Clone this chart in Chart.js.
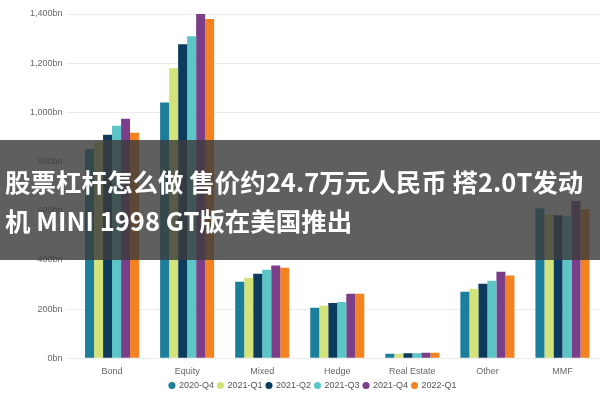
<!DOCTYPE html>
<html><head><meta charset="utf-8">
<script src="https://cdn.jsdelivr.net/npm/chart.js@4"></script>
<style>
body{margin:0;background:#fff;}
#wrap{position:relative;width:600px;height:400px;}
#banner{position:absolute;left:0;top:140px;width:600px;height:120px;background:rgba(60,60,60,0.82);color:#fff;
font:bold 25.5px "Noto Sans CJK SC","Noto Sans",sans-serif;line-height:39px;padding:21px 0 0 5px;box-sizing:border-box;white-space:nowrap;overflow:hidden;}
</style></head>
<body><div id="wrap"><canvas id="c" width="600" height="400"></canvas>
<div id="banner">股票杠杆怎么做 售价约24.7万元人民币 搭2.0T发动<br>机 MINI 1998 GT版在美国推出</div></div>
<script>
const categories = ['Bond','Equity','Mixed','Hedge','Real Estate','Other','MMF'];
const seriesNames = ['2020-Q4','2021-Q1','2021-Q2','2021-Q3','2021-Q4','2022-Q1'];
const q4_2020 = [851,1040,311,205,18,270,610];
const q1_2021 = [880,1179,327,213,18,282,585];
const q2_2021 = [909,1277,344,225,20,303,581];
const q3_2021 = [945,1310,360,229,20,315,577];
const q4_2021 = [974,1424,377,262,22,352,639];
const q1_2022 = [917,1380,368,262,22,336,606];
const colors = ['#1b7f9c','#d4e27a','#0d3b5e','#5cc6c6','#7b3f8a','#f58220'];
const values = [q4_2020,q1_2021,q2_2021,q3_2021,q4_2021,q1_2022];

new Chart(document.getElementById('c'), {
  type: 'bar',
  data: {
    labels: categories,
    datasets: seriesNames.map((n,i) => ({label:n,data:values[i],backgroundColor:colors[i],
      categoryPercentage:0.72,barPercentage:1}))
  },
  options: {
    responsive:false, animation:false,
    layout:{padding:{left:26,right:0,top:14,bottom:0}},
    plugins:{legend:{position:'bottom',labels:{usePointStyle:true,pointStyle:'circle',boxWidth:5,boxHeight:5,padding:4,
      font:{size:9},color:'#555'}},tooltip:{enabled:false}},
    scales:{
      x:{grid:{display:false},border:{display:false},ticks:{font:{size:9},color:'#666',padding:0}},
      y:{min:0,max:1400,ticks:{stepSize:200,font:{size:9},color:'#666',padding:4,callback:v=>(v===0?'0':v.toLocaleString('en-US'))+'bn'},
        grid:{color:'#ececec'},border:{display:false}}
    }
  }
});
</script></body></html>
